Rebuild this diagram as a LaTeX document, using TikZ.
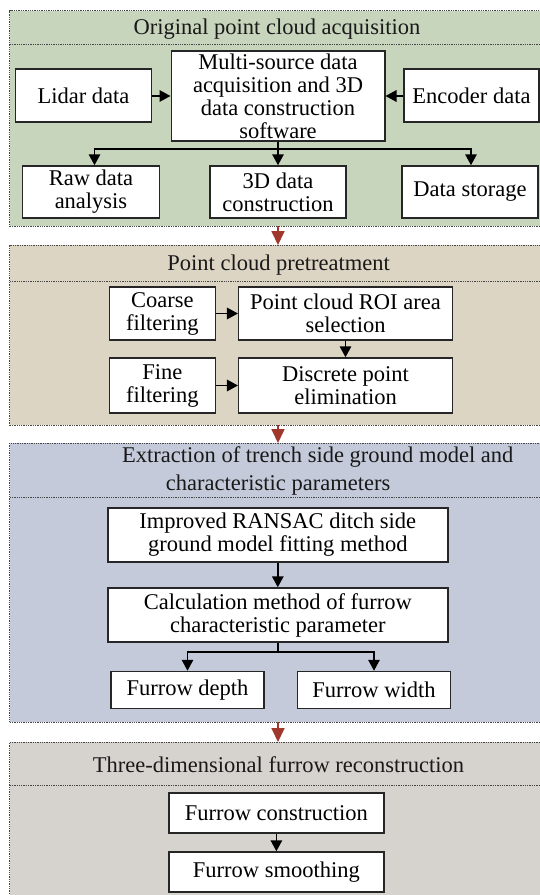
\documentclass[tikz,border=0pt]{standalone}
\usepackage{fontspec}
\setmainfont{Liberation Serif}
\usetikzlibrary{arrows.meta,calc}
\definecolor{pgreen}{RGB}{200,213,189}
\definecolor{pbeige}{RGB}{221,213,196}
\definecolor{pblue}{RGB}{196,202,218}
\definecolor{pgray}{RGB}{214,210,206}
\definecolor{dotc}{RGB}{70,70,70}
\definecolor{cRed}{RGB}{160,55,45}
\begin{document}
\begin{tikzpicture}[x=1pt,y=-1pt,
  panel/.style={draw=dotc, line width=1pt, dash pattern=on 1.3pt off 1pt, anchor=north west, inner sep=0pt, outer sep=0pt},
  sepline/.style={draw=dotc, line width=1pt, dash pattern=on 1.3pt off 1pt},
  box/.style={draw=black!85, line width=1.5pt, fill=white, align=center, inner sep=1pt, font=\fontsize{22.5}{23}\selectfont},
  ttl/.style={font=\fontsize{22.5}{23}\selectfont, inner sep=0pt, text=black!90},
  arr/.style={line width=1.6pt, -{Triangle[length=11pt,width=11.5pt]}},
  redarrow/.style={draw=cRed, fill=cRed, line width=1.8pt, -{Triangle[length=14pt,width=13pt]}}
]
\useasboundingbox (0,0) rectangle (540,895);
\clip (0,0) rectangle (540,895);
\fill[white] (0,0) rectangle (540,895);

% panels
\node[panel, fill=pgreen, minimum width=535.5pt, minimum height=215.5pt] (p1) at (9.6,10.5) {};
\node[panel, fill=pbeige, minimum width=535.5pt, minimum height=180pt] (p2) at (9.6,245) {};
\node[panel, fill=pblue, minimum width=535.5pt, minimum height=279pt] (p3) at (9.6,443) {};
\node[panel, fill=pgray, minimum width=535.5pt, minimum height=170pt] (p4) at (9.6,742) {};
\draw[sepline] (9.6,44) -- (545,44);
\draw[sepline] (9.6,281) -- (545,281);
\draw[sepline] (9.6,497) -- (545,497);
\draw[sepline] (9.6,785) -- (545,785);

% titles
\node[ttl] (t1) at (277,29) {Original point cloud acquisition};
\node[ttl] (t2) at (278.7,265) {Point cloud pretreatment};
\node[ttl] (t3a) at (317.8,457) {Extraction of trench side ground model and};
\node[ttl] (t3b) at (278.1,485) {characteristic parameters};
\node[ttl] (t4) at (278.5,765) {Three-dimensional furrow reconstruction};

% panel 1
\node[box, minimum width=136pt, minimum height=53pt] (lidar) at (83.5,95.5) {Lidar data};
\node[box, minimum width=213.5pt, minimum height=90pt] (multi) at (278,96) {Multi-source data\\acquisition and 3D\\data construction\\software};
\node[box, minimum width=135pt, minimum height=53pt] (enc) at (471.5,95.5) {Encoder data};
\node[box, minimum width=137pt, minimum height=52pt] (raw) at (91,192) {Raw data\\analysis};
\node[box, minimum width=136.4pt, minimum height=52pt] (cons) at (278,192) {3D data\\construction};
\node[box, minimum width=136pt, minimum height=52pt] (stor) at (470,192) {Data storage};

\draw[arr] (lidar.east |- 0,96) -- (multi.west |- 0,96);
\draw[arr] (enc.west |- 0,96) -- (multi.east |- 0,96);
\coordinate (jm) at (278,149);
\coordinate (bl) at (94.5,149);
\coordinate (br) at (471,149);
\draw[line width=1.6pt] (multi.south) -- (jm);
\draw[arr] (jm) -- (bl) -- (bl |- raw.north);
\draw[arr] (jm) -- (br) -- (br |- stor.north);
\draw[arr] (jm) -- (cons.north);

% panel 2
\node[box, minimum width=105.8pt, minimum height=53pt] (coarse) at (162.4,313.5) {Coarse\\filtering};
\node[box, minimum width=213.6pt, minimum height=53pt] (roi) at (345.5,313.5) {Point cloud ROI area\\selection};
\node[box, minimum width=105.8pt, minimum height=55pt] (fine) at (162.4,385.5) {Fine\\filtering};
\node[box, minimum width=213.6pt, minimum height=55pt] (disc) at (345.5,385.5) {Discrete point\\elimination};
\draw[arr] (coarse) -- (roi);
\draw[arr] (fine) -- (disc);
\draw[arr] (roi) -- (disc);

% panel 3
\node[box, minimum width=340pt, minimum height=54pt] (ransac) at (277.8,535) {Improved RANSAC ditch side\\ground model fitting method};
\node[box, minimum width=340pt, minimum height=54pt] (calc) at (277.8,615) {Calculation method of furrow\\characteristic parameter};
\node[box, minimum width=153.3pt, minimum height=37pt] (depth) at (187.5,690) {Furrow depth};
\node[box, minimum width=153pt, minimum height=37pt] (width) at (374,690) {Furrow width};
\draw[arr] (ransac) -- (calc);
\coordinate (jm2) at (277.8,652);
\draw[line width=1.6pt] (calc.south) -- (jm2);
\draw[arr] (jm2) -- (jm2 -| depth) -- (depth.north);
\draw[arr] (jm2) -- (jm2 -| width) -- (width.north);

% panel 4
\node[box, minimum width=215.2pt, minimum height=40pt] (fcons) at (276.4,813) {Furrow construction};
\node[box, minimum width=215.2pt, minimum height=40pt] (fsm) at (276.4,872) {Furrow smoothing};
\draw[arr] (fcons) -- (fsm);

% red arrows between panels
\draw[redarrow] (p1.south -| multi.south) -- (p2.north -| multi.south);
\draw[redarrow] (p2.south -| multi.south) -- (p3.north -| multi.south);
\draw[redarrow] (p3.south -| multi.south) -- (p4.north -| multi.south);
\end{tikzpicture}
\end{document}
